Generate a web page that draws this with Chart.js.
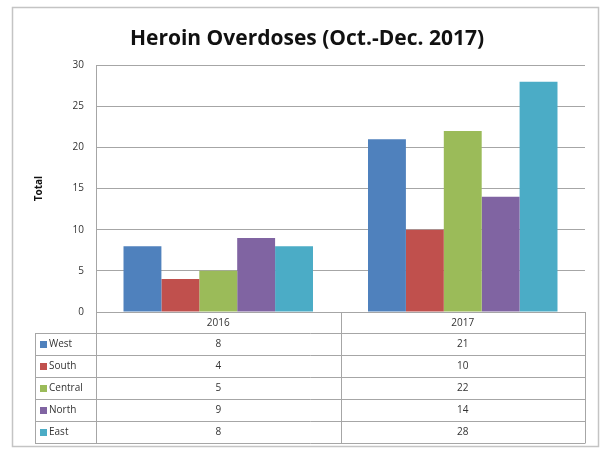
<!DOCTYPE html>
<html>
<head>
<meta charset="utf-8">
<script src="https://cdn.jsdelivr.net/npm/chart.js@4"></script>
<style>
  html, body { margin: 0; padding: 0; background: #fff; }
  #wrap { width: 600px; height: 449px; position: relative; }
</style>
</head>
<body>
<div id="wrap"><canvas id="c" width="600" height="449"></canvas></div>
<script>
const categories = ["2016", "2017"];
const seriesNames = ["West", "South", "Central", "North", "East"];
const west = [8, 21];
const south = [4, 10];
const central = [5, 22];
const north = [9, 14];
const east = [8, 28];
const yTicks = [0, 5, 10, 15, 20, 25, 30];
const seriesColors = ["#4F81BD", "#C0504D", "#9BBB59", "#8064A2", "#4BACC6"];
const seriesValues = [west, south, central, north, east];

const FONT = "'Open Sans', 'Liberation Sans', sans-serif";
const LINE = "#a6a6a6";
const ROW_H = 22;

const tablePlugin = {
  id: 'dataTable',
  afterDraw(chart) {
    const ctx = chart.ctx;
    const ca = chart.chartArea;
    const xs = chart.scales.x;
    const left = ca.left, right = ca.right;
    const keyLeft = 35;
    const mid = (xs.getPixelForValue(0) + xs.getPixelForValue(1)) / 2;
    const headTop = ca.bottom;
    const headBot = headTop + 21;
    const n = chart.data.datasets.length;
    const tableBot = headBot + n * ROW_H;
    ctx.save();
    ctx.strokeStyle = LINE;
    ctx.lineWidth = 1;
    ctx.beginPath();
    [left, mid, right].forEach(x => {
      const px = Math.round(x) + 0.5;
      ctx.moveTo(px, headTop);
      ctx.lineTo(px, tableBot);
    });
    ctx.moveTo(keyLeft + 0.5, headBot);
    ctx.lineTo(keyLeft + 0.5, tableBot);
    for (let i = 0; i <= n; i++) {
      const py = Math.round(headBot + i * ROW_H) + 0.5;
      ctx.moveTo(keyLeft, py);
      ctx.lineTo(right + 0.5, py);
    }
    ctx.stroke();

    ctx.font = "10px " + FONT;
    ctx.textBaseline = "middle";
    chart.data.datasets.forEach((ds, i) => {
      const cy = headBot + i * ROW_H + ROW_H / 2 + 0.5;
      ctx.fillStyle = ds.backgroundColor;
      ctx.fillRect(keyLeft + 5, cy - 3.5, 7, 7);
      ctx.fillStyle = "#333";
      ctx.textAlign = "left";
      ctx.fillText(ds.label, keyLeft + 14, cy);
      ctx.textAlign = "center";
      ds.data.forEach((v, j) => {
        ctx.fillText(String(v), xs.getPixelForValue(j), cy);
      });
    });

    ctx.strokeStyle = "#c4c4c4";
    ctx.lineWidth = 1.5;
    ctx.strokeRect(12.5, 7.5, 586, 439);
    ctx.restore();
  }
};

new Chart(document.getElementById('c'), {
  type: 'bar',
  data: {
    labels: categories,
    datasets: seriesNames.map((name, i) => ({
      label: name,
      data: seriesValues[i],
      backgroundColor: seriesColors[i],
      borderWidth: 0,
      categoryPercentage: 0.775,
      barPercentage: 1.0
    }))
  },
  options: {
    responsive: false,
    animation: false,
    devicePixelRatio: 1,
    layout: { padding: { left: 29, right: 15, top: 0, bottom: 116 } },
    plugins: {
      legend: { display: false },
      tooltip: { enabled: false },
      title: {
        display: true,
        text: "Heroin Overdoses (Oct.-Dec. 2017)",
        color: "#111",
        font: { family: FONT, size: 21, weight: 'bold' },
        padding: { top: 26, bottom: 14 }
      }
    },
    scales: {
      x: {
        grid: { display: false, drawTicks: false },
        border: { display: true, color: LINE, width: 1 },
        ticks: { color: "#333", font: { family: FONT, size: 10 }, padding: 5 },
        afterFit(scale) { scale.height = 21; }
      },
      y: {
        min: 0, max: 30,
        afterBuildTicks(scale) { scale.ticks = yTicks.map(v => ({ value: v })); },
        grid: { color: LINE, lineWidth: 1, drawTicks: false },
        border: { display: true, color: LINE, width: 1 },
        ticks: { color: "#333", font: { family: FONT, size: 10 }, padding: 12 },
        title: {
          display: true, text: "Total", color: "#111",
          font: { family: FONT, size: 10, weight: 'bold' }, padding: 4
        },
        afterFit(scale) { scale.width = 67; }
      }
    }
  },
  plugins: [tablePlugin]
});
</script>
</body>
</html>
